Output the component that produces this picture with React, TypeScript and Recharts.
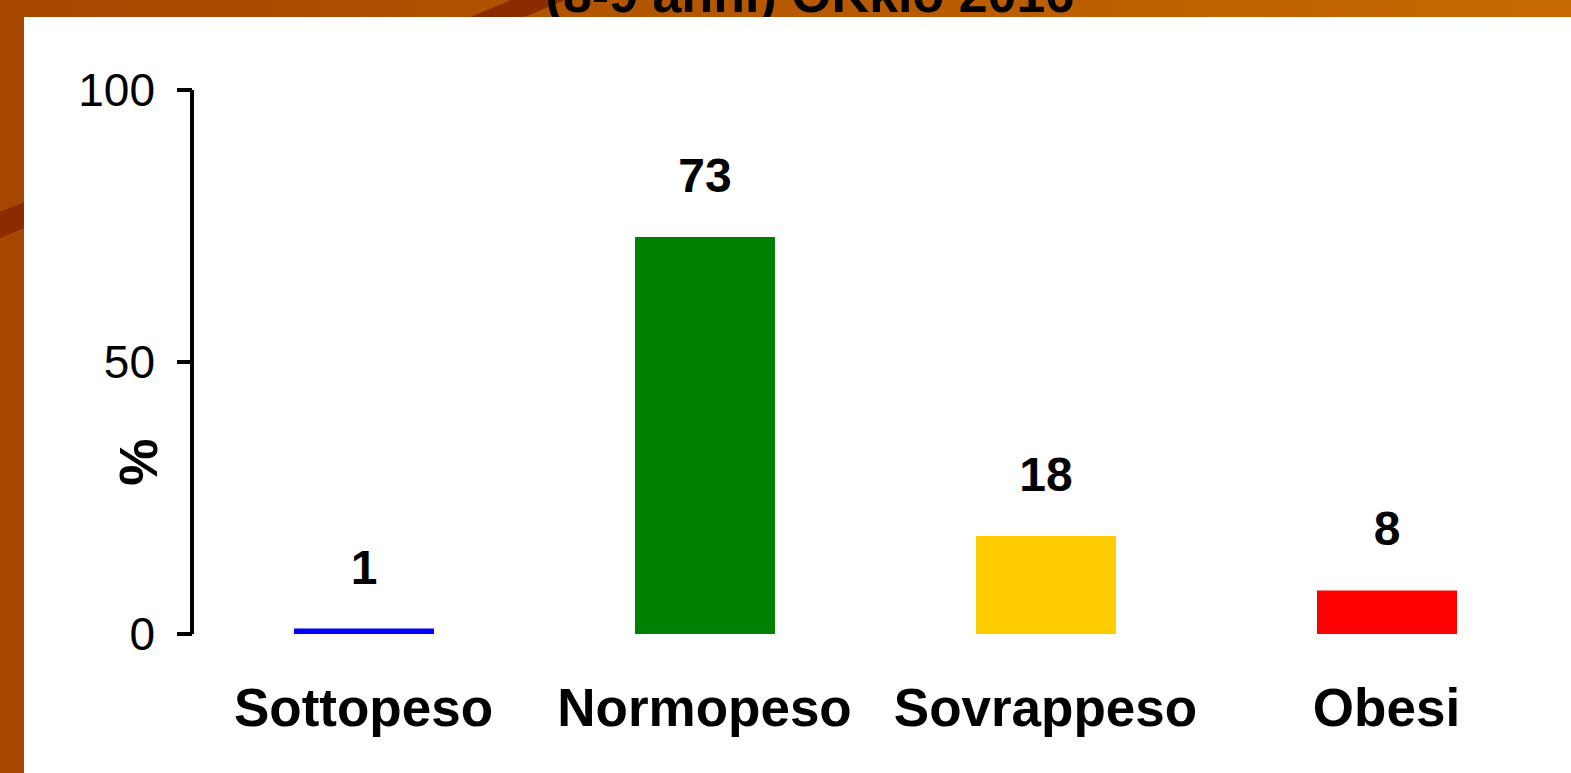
import React from 'react';
import { BarChart, Bar, XAxis, YAxis, Cell, LabelList, Label } from 'recharts';

const categories = ['Sottopeso', 'Normopeso', 'Sovrappeso', 'Obesi'];
const values = [1, 73, 18, 8];
const barColors = ['#0000ff', '#008000', '#ffcc00', '#ff0000'];
const yTicks = [0, 50, 100];
const titleLine = '(8-9 anni) OKkio 2016';

const data = categories.map((name, i) => ({ name, value: values[i] }));

const FONT = '"Liberation Sans", Arial, sans-serif';

// rotated "%" sits lower than the middle of the axis, like in the slide
const PercentLabel = (props: any) => {
  const vb = props.viewBox || {};
  const x = vb.x + 45;
  const y = vb.y + vb.height * 0.684;
  return (
    <text
      x={x}
      y={y}
      transform={`rotate(-90, ${x}, ${y})`}
      textAnchor="middle"
      fontFamily={FONT}
      fontWeight="bold"
      fontSize={53}
      fill="#000"
    >
      %
    </text>
  );
};

export default function App() {
  return (
    <div style={{ position: 'absolute', left: 0, top: 0, width: 1571, height: 773, overflow: 'hidden' }}>
      {/* slide background */}
      <svg width={1571} height={773} style={{ position: 'absolute', left: 0, top: 0 }}>
        <defs>
          <linearGradient id="bg" x1="0" y1="0" x2="1" y2="0">
            <stop offset="0%" stopColor="#a54700" />
            <stop offset="100%" stopColor="#c66a00" />
          </linearGradient>
        </defs>
        <rect x={0} y={0} width={1571} height={773} fill="url(#bg)" />
        <polygon points="0,212 511,0 565,0 0,238" fill="#8a2c00" />
        <text
          x={810}
          y={12}
          textAnchor="middle"
          fontFamily={FONT}
          fontWeight="bold"
          fontSize={52}
          fill="#000"
        >
          {titleLine}
        </text>
        <rect x={24} y={17} width={1547} height={756} fill="#fff" />
      </svg>

      <div style={{ position: 'absolute', left: 0, top: 0 }}>
        <BarChart
          width={1571}
          height={773}
          data={data}
          margin={{ top: 90, right: 14, bottom: 39, left: 112 }}
        >
          <XAxis
            dataKey="name"
            axisLine={false}
            tickLine={false}
            tickSize={0}
            tickMargin={54}
            height={100}
            interval={0}
            padding={{ left: 1, right: 0 }}
            tick={{ fill: '#000', fontSize: 53, fontWeight: 'bold', fontFamily: FONT }}
          />
          <YAxis
            domain={[0, 100]}
            ticks={yTicks}
            width={80}
            tickSize={15}
            tickMargin={22}
            axisLine={{ stroke: '#000', strokeWidth: 4 }}
            tickLine={{ stroke: '#000', strokeWidth: 4 }}
            tick={{ fill: '#000', fontSize: 46, fontFamily: FONT }}
          >
            <Label content={PercentLabel} />
          </YAxis>
          <Bar dataKey="value" barSize={140} isAnimationActive={false}>
            {data.map((d, i) => (
              <Cell key={d.name} fill={barColors[i]} />
            ))}
            <LabelList
              dataKey="value"
              position="top"
              offset={45}
              fill="#000"
              fontSize={48}
              fontWeight="bold"
              fontFamily={FONT}
            />
          </Bar>
        </BarChart>
      </div>
    </div>
  );
}
